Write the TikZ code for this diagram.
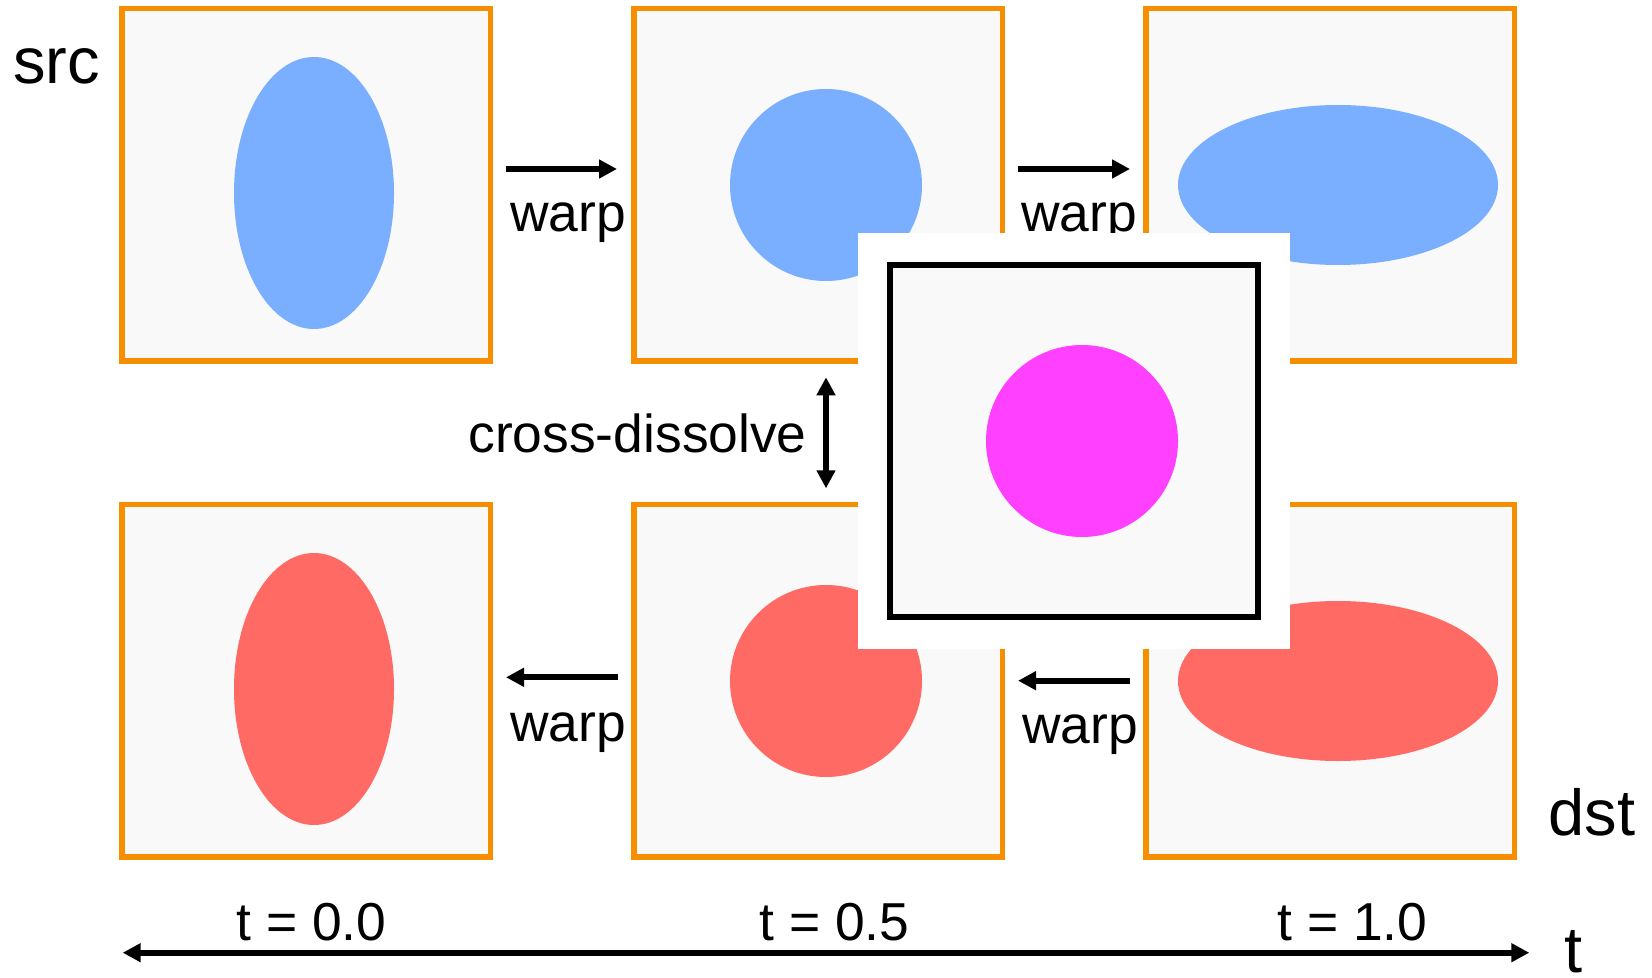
\documentclass[tikz,border=0pt]{standalone}
\usepackage{fontspec}
\setmainfont{Liberation Sans}
\usetikzlibrary{arrows.meta}
\definecolor{orng}{RGB}{246,142,0}
\definecolor{panel}{RGB}{249,249,249}
\definecolor{blu}{RGB}{122,174,255}
\definecolor{rd}{RGB}{255,106,100}
\definecolor{mag}{RGB}{255,64,255}
\begin{document}
\begin{tikzpicture}[x=0.5pt,y=-0.5pt,
  panelbox/.style={draw=orng, fill=panel, line width=2.75pt, minimum width=184.25pt, minimum height=176.1pt, inner sep=0pt},
  lbl/.style={anchor=base west, inner sep=0pt, font=\fontsize{26.7}{30}\selectfont},
  biglbl/.style={anchor=base west, inner sep=0pt, font=\fontsize{32.5}{36}\selectfont},
  arr/.style={line width=3pt, -{Triangle[length=9pt,width=9pt]}},
  darr/.style={line width=3pt, {Triangle[length=9pt,width=9pt]}-{Triangle[length=9pt,width=9pt]}}]
\useasboundingbox (0,0) rectangle (1652,978);
% panels
\node[panelbox] (s0) at (306,184.85) {};
\node[panelbox] (s1) at (818,184.85) {};
\node[panelbox] (s2) at (1330,184.85) {};
\node[panelbox] (d0) at (306,680.8) {};
\node[panelbox] (d1) at (818,680.8) {};
\node[panelbox] (d2) at (1330,680.8) {};
% shapes
\fill[blu] (314,193) ellipse [x radius=80, y radius=136];
\fill[blu] (826,185) circle [radius=96];
\fill[blu] (1338,185) ellipse [x radius=160, y radius=80];
\fill[rd] (314,689) ellipse [x radius=80, y radius=136];
\fill[rd] (826,681) circle [radius=96];
\fill[rd] (1338,681) ellipse [x radius=160, y radius=80];
% labels
\node[biglbl] (src) at (13,83.3) {src};
\node[biglbl] (dst) at (1548,835.7) {dst};
\node[biglbl] (tax) at (1564,972) {t};
\node[lbl] (w1) at (510,232) {warp};
\node[lbl] (w2) at (1021,232) {warp};
\node[lbl] (w3) at (510,741) {warp};
\node[lbl] (w4) at (1022,743) {warp};
\node[lbl] (cd) at (468,452.7) {cross-dissolve};
\node[lbl] (t0) at (236,940.7) {t = 0.0};
\node[lbl] (t5) at (759,940) {t = 0.5};
\node[lbl] (t1) at (1277,940) {t = 1.0};
% arrows
\coordinate (a1s) at (506,169); \coordinate (a1e) at (617,169);
\coordinate (a2s) at (1018,169); \coordinate (a2e) at (1130,169);
\coordinate (b1s) at (618,677.3); \coordinate (b1e) at (506,677.3);
\coordinate (b2s) at (1130,680.7); \coordinate (b2e) at (1018,680.7);
\coordinate (cdt) at (826,377.3); \coordinate (cdb) at (826,488.3);
\coordinate (tl) at (122.7,952.7); \coordinate (tr) at (1529.3,952.7);
\draw[arr] (a1s) -- (a1e);
\draw[arr] (a2s) -- (a2e);
\draw[arr] (b1s) -- (b1e);
\draw[arr] (b2s) -- (b2e);
\draw[darr] (cdt) -- (cdb);
\draw[darr] (tl) -- (tr);
% overlay
\node[fill=white, minimum width=216pt, minimum height=208pt, inner sep=0pt] (wh) at (1074,441) {};
\node[draw=black, fill=panel, line width=3pt, minimum width=184pt, minimum height=175.85pt, inner sep=0pt] (mix) at (1074,440.85) {};
\fill[mag] (1082,441) circle [radius=96];
\end{tikzpicture}
\end{document}
